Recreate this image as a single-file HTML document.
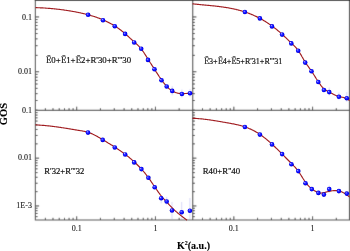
<!DOCTYPE html>
<html><head><meta charset="utf-8"><style>
html,body{margin:0;padding:0;background:#fff;width:350px;height:251px;overflow:hidden}
svg{display:block}
.eb{font-family:"Noto Serif CJK SC","Liberation Serif",serif;font-size:8.6px}
</style></head><body>
<svg width="350" height="251" viewBox="0 0 350 251">
<defs>
<filter id="soft" x="0" y="0" width="350" height="251" filterUnits="userSpaceOnUse"><feConvolveMatrix order="3" kernelMatrix="0.0113 0.0838 0.0113 0.0838 0.6193 0.0838 0.0113 0.0838 0.0113" edgeMode="duplicate"/></filter>
<radialGradient id="g" cx="0.5" cy="0.5" r="0.5" fx="0.32" fy="0.3">
<stop offset="0" stop-color="#d0d0ff"/>
<stop offset="0.3" stop-color="#3a3aff"/>
<stop offset="0.75" stop-color="#0000ff"/>
<stop offset="1" stop-color="#0000c8"/>
</radialGradient>
</defs>
<g filter="url(#soft)"><rect width="350" height="251" fill="#fff"/>
<line x1="172.2" y1="86.2" x2="172.2" y2="95.3" stroke="#d4d4f6" stroke-width="0.9"/><line x1="181.9" y1="89.5" x2="181.9" y2="97.7" stroke="#d4d4f6" stroke-width="0.9"/><line x1="190.0" y1="89" x2="190.0" y2="97" stroke="#d4d4f6" stroke-width="0.9"/><line x1="329.2" y1="87.5" x2="329.2" y2="95.5" stroke="#d4d4f6" stroke-width="0.9"/><line x1="338.9" y1="92.5" x2="338.9" y2="100" stroke="#d4d4f6" stroke-width="0.9"/><line x1="346.8" y1="92" x2="346.8" y2="102" stroke="#d4d4f6" stroke-width="0.9"/><line x1="161.2" y1="197" x2="161.2" y2="203.4" stroke="#d4d4f6" stroke-width="0.9"/><line x1="166.7" y1="197" x2="166.7" y2="205" stroke="#d4d4f6" stroke-width="0.9"/><line x1="172.0" y1="202" x2="172.0" y2="219.2" stroke="#d4d4f6" stroke-width="0.9"/><line x1="181.7" y1="202" x2="181.7" y2="219.2" stroke="#d4d4f6" stroke-width="0.9"/><line x1="189.9" y1="198" x2="189.9" y2="219.2" stroke="#d4d4f6" stroke-width="0.9"/><line x1="329.2" y1="185.5" x2="329.2" y2="193" stroke="#d4d4f6" stroke-width="0.9"/>
<g><line x1="45.36" y1="110.40" x2="45.36" y2="108.20" stroke="#383838" stroke-width="1.0"/><line x1="52.99" y1="110.40" x2="52.99" y2="108.20" stroke="#383838" stroke-width="1.0"/><line x1="59.23" y1="110.40" x2="59.23" y2="108.20" stroke="#383838" stroke-width="1.0"/><line x1="64.50" y1="110.40" x2="64.50" y2="108.20" stroke="#383838" stroke-width="1.0"/><line x1="69.07" y1="110.40" x2="69.07" y2="108.20" stroke="#383838" stroke-width="1.0"/><line x1="73.10" y1="110.40" x2="73.10" y2="108.20" stroke="#383838" stroke-width="1.0"/><line x1="76.70" y1="110.40" x2="76.70" y2="106.70" stroke="#383838" stroke-width="1.0"/><line x1="100.41" y1="110.40" x2="100.41" y2="108.20" stroke="#383838" stroke-width="1.0"/><line x1="114.27" y1="110.40" x2="114.27" y2="108.20" stroke="#383838" stroke-width="1.0"/><line x1="124.11" y1="110.40" x2="124.11" y2="108.20" stroke="#383838" stroke-width="1.0"/><line x1="131.74" y1="110.40" x2="131.74" y2="108.20" stroke="#383838" stroke-width="1.0"/><line x1="137.98" y1="110.40" x2="137.98" y2="108.20" stroke="#383838" stroke-width="1.0"/><line x1="143.25" y1="110.40" x2="143.25" y2="108.20" stroke="#383838" stroke-width="1.0"/><line x1="147.82" y1="110.40" x2="147.82" y2="108.20" stroke="#383838" stroke-width="1.0"/><line x1="151.85" y1="110.40" x2="151.85" y2="108.20" stroke="#383838" stroke-width="1.0"/><line x1="155.45" y1="110.40" x2="155.45" y2="106.70" stroke="#383838" stroke-width="1.0"/><line x1="179.16" y1="110.40" x2="179.16" y2="108.20" stroke="#383838" stroke-width="1.0"/><line x1="202.51" y1="110.40" x2="202.51" y2="108.20" stroke="#383838" stroke-width="1.0"/><line x1="210.14" y1="110.40" x2="210.14" y2="108.20" stroke="#383838" stroke-width="1.0"/><line x1="216.38" y1="110.40" x2="216.38" y2="108.20" stroke="#383838" stroke-width="1.0"/><line x1="221.65" y1="110.40" x2="221.65" y2="108.20" stroke="#383838" stroke-width="1.0"/><line x1="226.22" y1="110.40" x2="226.22" y2="108.20" stroke="#383838" stroke-width="1.0"/><line x1="230.25" y1="110.40" x2="230.25" y2="108.20" stroke="#383838" stroke-width="1.0"/><line x1="233.85" y1="110.40" x2="233.85" y2="106.70" stroke="#383838" stroke-width="1.0"/><line x1="257.56" y1="110.40" x2="257.56" y2="108.20" stroke="#383838" stroke-width="1.0"/><line x1="271.42" y1="110.40" x2="271.42" y2="108.20" stroke="#383838" stroke-width="1.0"/><line x1="281.26" y1="110.40" x2="281.26" y2="108.20" stroke="#383838" stroke-width="1.0"/><line x1="288.89" y1="110.40" x2="288.89" y2="108.20" stroke="#383838" stroke-width="1.0"/><line x1="295.13" y1="110.40" x2="295.13" y2="108.20" stroke="#383838" stroke-width="1.0"/><line x1="300.40" y1="110.40" x2="300.40" y2="108.20" stroke="#383838" stroke-width="1.0"/><line x1="304.97" y1="110.40" x2="304.97" y2="108.20" stroke="#383838" stroke-width="1.0"/><line x1="309.00" y1="110.40" x2="309.00" y2="108.20" stroke="#383838" stroke-width="1.0"/><line x1="312.60" y1="110.40" x2="312.60" y2="106.70" stroke="#383838" stroke-width="1.0"/><line x1="336.31" y1="110.40" x2="336.31" y2="108.20" stroke="#383838" stroke-width="1.0"/><line x1="45.36" y1="220.00" x2="45.36" y2="217.80" stroke="#383838" stroke-width="1.0"/><line x1="52.99" y1="220.00" x2="52.99" y2="217.80" stroke="#383838" stroke-width="1.0"/><line x1="59.23" y1="220.00" x2="59.23" y2="217.80" stroke="#383838" stroke-width="1.0"/><line x1="64.50" y1="220.00" x2="64.50" y2="217.80" stroke="#383838" stroke-width="1.0"/><line x1="69.07" y1="220.00" x2="69.07" y2="217.80" stroke="#383838" stroke-width="1.0"/><line x1="73.10" y1="220.00" x2="73.10" y2="217.80" stroke="#383838" stroke-width="1.0"/><line x1="76.70" y1="220.00" x2="76.70" y2="216.30" stroke="#383838" stroke-width="1.0"/><line x1="100.41" y1="220.00" x2="100.41" y2="217.80" stroke="#383838" stroke-width="1.0"/><line x1="114.27" y1="220.00" x2="114.27" y2="217.80" stroke="#383838" stroke-width="1.0"/><line x1="124.11" y1="220.00" x2="124.11" y2="217.80" stroke="#383838" stroke-width="1.0"/><line x1="131.74" y1="220.00" x2="131.74" y2="217.80" stroke="#383838" stroke-width="1.0"/><line x1="137.98" y1="220.00" x2="137.98" y2="217.80" stroke="#383838" stroke-width="1.0"/><line x1="143.25" y1="220.00" x2="143.25" y2="217.80" stroke="#383838" stroke-width="1.0"/><line x1="147.82" y1="220.00" x2="147.82" y2="217.80" stroke="#383838" stroke-width="1.0"/><line x1="151.85" y1="220.00" x2="151.85" y2="217.80" stroke="#383838" stroke-width="1.0"/><line x1="155.45" y1="220.00" x2="155.45" y2="216.30" stroke="#383838" stroke-width="1.0"/><line x1="179.16" y1="220.00" x2="179.16" y2="217.80" stroke="#383838" stroke-width="1.0"/><line x1="202.51" y1="220.00" x2="202.51" y2="217.80" stroke="#383838" stroke-width="1.0"/><line x1="210.14" y1="220.00" x2="210.14" y2="217.80" stroke="#383838" stroke-width="1.0"/><line x1="216.38" y1="220.00" x2="216.38" y2="217.80" stroke="#383838" stroke-width="1.0"/><line x1="221.65" y1="220.00" x2="221.65" y2="217.80" stroke="#383838" stroke-width="1.0"/><line x1="226.22" y1="220.00" x2="226.22" y2="217.80" stroke="#383838" stroke-width="1.0"/><line x1="230.25" y1="220.00" x2="230.25" y2="217.80" stroke="#383838" stroke-width="1.0"/><line x1="233.85" y1="220.00" x2="233.85" y2="216.30" stroke="#383838" stroke-width="1.0"/><line x1="257.56" y1="220.00" x2="257.56" y2="217.80" stroke="#383838" stroke-width="1.0"/><line x1="271.42" y1="220.00" x2="271.42" y2="217.80" stroke="#383838" stroke-width="1.0"/><line x1="281.26" y1="220.00" x2="281.26" y2="217.80" stroke="#383838" stroke-width="1.0"/><line x1="288.89" y1="220.00" x2="288.89" y2="217.80" stroke="#383838" stroke-width="1.0"/><line x1="295.13" y1="220.00" x2="295.13" y2="217.80" stroke="#383838" stroke-width="1.0"/><line x1="300.40" y1="220.00" x2="300.40" y2="217.80" stroke="#383838" stroke-width="1.0"/><line x1="304.97" y1="220.00" x2="304.97" y2="217.80" stroke="#383838" stroke-width="1.0"/><line x1="309.00" y1="220.00" x2="309.00" y2="217.80" stroke="#383838" stroke-width="1.0"/><line x1="312.60" y1="220.00" x2="312.60" y2="216.30" stroke="#383838" stroke-width="1.0"/><line x1="336.31" y1="220.00" x2="336.31" y2="217.80" stroke="#383838" stroke-width="1.0"/><line x1="35.40" y1="110.15" x2="37.60" y2="110.15" stroke="#383838" stroke-width="1.0"/><line x1="35.40" y1="100.50" x2="37.60" y2="100.50" stroke="#383838" stroke-width="1.0"/><line x1="35.40" y1="93.66" x2="37.60" y2="93.66" stroke="#383838" stroke-width="1.0"/><line x1="35.40" y1="88.35" x2="37.60" y2="88.35" stroke="#383838" stroke-width="1.0"/><line x1="35.40" y1="84.01" x2="37.60" y2="84.01" stroke="#383838" stroke-width="1.0"/><line x1="35.40" y1="80.34" x2="37.60" y2="80.34" stroke="#383838" stroke-width="1.0"/><line x1="35.40" y1="77.16" x2="37.60" y2="77.16" stroke="#383838" stroke-width="1.0"/><line x1="35.40" y1="74.36" x2="37.60" y2="74.36" stroke="#383838" stroke-width="1.0"/><line x1="35.40" y1="71.75" x2="39.10" y2="71.75" stroke="#383838" stroke-width="1.0"/><line x1="35.40" y1="55.35" x2="37.60" y2="55.35" stroke="#383838" stroke-width="1.0"/><line x1="35.40" y1="45.70" x2="37.60" y2="45.70" stroke="#383838" stroke-width="1.0"/><line x1="35.40" y1="38.86" x2="37.60" y2="38.86" stroke="#383838" stroke-width="1.0"/><line x1="35.40" y1="33.55" x2="37.60" y2="33.55" stroke="#383838" stroke-width="1.0"/><line x1="35.40" y1="29.21" x2="37.60" y2="29.21" stroke="#383838" stroke-width="1.0"/><line x1="35.40" y1="25.54" x2="37.60" y2="25.54" stroke="#383838" stroke-width="1.0"/><line x1="35.40" y1="22.36" x2="37.60" y2="22.36" stroke="#383838" stroke-width="1.0"/><line x1="35.40" y1="19.56" x2="37.60" y2="19.56" stroke="#383838" stroke-width="1.0"/><line x1="35.40" y1="16.95" x2="39.10" y2="16.95" stroke="#383838" stroke-width="1.0"/><line x1="192.70" y1="110.15" x2="194.90" y2="110.15" stroke="#383838" stroke-width="1.0"/><line x1="192.70" y1="100.50" x2="194.90" y2="100.50" stroke="#383838" stroke-width="1.0"/><line x1="192.70" y1="93.66" x2="194.90" y2="93.66" stroke="#383838" stroke-width="1.0"/><line x1="192.70" y1="88.35" x2="194.90" y2="88.35" stroke="#383838" stroke-width="1.0"/><line x1="192.70" y1="84.01" x2="194.90" y2="84.01" stroke="#383838" stroke-width="1.0"/><line x1="192.70" y1="80.34" x2="194.90" y2="80.34" stroke="#383838" stroke-width="1.0"/><line x1="192.70" y1="77.16" x2="194.90" y2="77.16" stroke="#383838" stroke-width="1.0"/><line x1="192.70" y1="74.36" x2="194.90" y2="74.36" stroke="#383838" stroke-width="1.0"/><line x1="192.70" y1="71.75" x2="196.40" y2="71.75" stroke="#383838" stroke-width="1.0"/><line x1="192.70" y1="55.35" x2="194.90" y2="55.35" stroke="#383838" stroke-width="1.0"/><line x1="192.70" y1="45.70" x2="194.90" y2="45.70" stroke="#383838" stroke-width="1.0"/><line x1="192.70" y1="38.86" x2="194.90" y2="38.86" stroke="#383838" stroke-width="1.0"/><line x1="192.70" y1="33.55" x2="194.90" y2="33.55" stroke="#383838" stroke-width="1.0"/><line x1="192.70" y1="29.21" x2="194.90" y2="29.21" stroke="#383838" stroke-width="1.0"/><line x1="192.70" y1="25.54" x2="194.90" y2="25.54" stroke="#383838" stroke-width="1.0"/><line x1="192.70" y1="22.36" x2="194.90" y2="22.36" stroke="#383838" stroke-width="1.0"/><line x1="192.70" y1="19.56" x2="194.90" y2="19.56" stroke="#383838" stroke-width="1.0"/><line x1="192.70" y1="16.95" x2="196.40" y2="16.95" stroke="#383838" stroke-width="1.0"/><line x1="35.40" y1="216.65" x2="37.60" y2="216.65" stroke="#383838" stroke-width="1.0"/><line x1="35.40" y1="213.45" x2="37.60" y2="213.45" stroke="#383838" stroke-width="1.0"/><line x1="35.40" y1="210.68" x2="37.60" y2="210.68" stroke="#383838" stroke-width="1.0"/><line x1="35.40" y1="208.24" x2="37.60" y2="208.24" stroke="#383838" stroke-width="1.0"/><line x1="35.40" y1="205.95" x2="39.10" y2="205.95" stroke="#383838" stroke-width="1.0"/><line x1="35.40" y1="191.66" x2="37.60" y2="191.66" stroke="#383838" stroke-width="1.0"/><line x1="35.40" y1="183.24" x2="37.60" y2="183.24" stroke="#383838" stroke-width="1.0"/><line x1="35.40" y1="177.27" x2="37.60" y2="177.27" stroke="#383838" stroke-width="1.0"/><line x1="35.40" y1="172.64" x2="37.60" y2="172.64" stroke="#383838" stroke-width="1.0"/><line x1="35.40" y1="168.85" x2="37.60" y2="168.85" stroke="#383838" stroke-width="1.0"/><line x1="35.40" y1="165.65" x2="37.60" y2="165.65" stroke="#383838" stroke-width="1.0"/><line x1="35.40" y1="162.88" x2="37.60" y2="162.88" stroke="#383838" stroke-width="1.0"/><line x1="35.40" y1="160.44" x2="37.60" y2="160.44" stroke="#383838" stroke-width="1.0"/><line x1="35.40" y1="158.15" x2="39.10" y2="158.15" stroke="#383838" stroke-width="1.0"/><line x1="35.40" y1="143.86" x2="37.60" y2="143.86" stroke="#383838" stroke-width="1.0"/><line x1="35.40" y1="135.44" x2="37.60" y2="135.44" stroke="#383838" stroke-width="1.0"/><line x1="35.40" y1="129.47" x2="37.60" y2="129.47" stroke="#383838" stroke-width="1.0"/><line x1="35.40" y1="124.84" x2="37.60" y2="124.84" stroke="#383838" stroke-width="1.0"/><line x1="35.40" y1="121.05" x2="37.60" y2="121.05" stroke="#383838" stroke-width="1.0"/><line x1="35.40" y1="117.85" x2="37.60" y2="117.85" stroke="#383838" stroke-width="1.0"/><line x1="35.40" y1="115.08" x2="37.60" y2="115.08" stroke="#383838" stroke-width="1.0"/><line x1="35.40" y1="112.64" x2="37.60" y2="112.64" stroke="#383838" stroke-width="1.0"/><line x1="192.70" y1="216.65" x2="194.90" y2="216.65" stroke="#383838" stroke-width="1.0"/><line x1="192.70" y1="213.45" x2="194.90" y2="213.45" stroke="#383838" stroke-width="1.0"/><line x1="192.70" y1="210.68" x2="194.90" y2="210.68" stroke="#383838" stroke-width="1.0"/><line x1="192.70" y1="208.24" x2="194.90" y2="208.24" stroke="#383838" stroke-width="1.0"/><line x1="192.70" y1="205.95" x2="196.40" y2="205.95" stroke="#383838" stroke-width="1.0"/><line x1="192.70" y1="191.66" x2="194.90" y2="191.66" stroke="#383838" stroke-width="1.0"/><line x1="192.70" y1="183.24" x2="194.90" y2="183.24" stroke="#383838" stroke-width="1.0"/><line x1="192.70" y1="177.27" x2="194.90" y2="177.27" stroke="#383838" stroke-width="1.0"/><line x1="192.70" y1="172.64" x2="194.90" y2="172.64" stroke="#383838" stroke-width="1.0"/><line x1="192.70" y1="168.85" x2="194.90" y2="168.85" stroke="#383838" stroke-width="1.0"/><line x1="192.70" y1="165.65" x2="194.90" y2="165.65" stroke="#383838" stroke-width="1.0"/><line x1="192.70" y1="162.88" x2="194.90" y2="162.88" stroke="#383838" stroke-width="1.0"/><line x1="192.70" y1="160.44" x2="194.90" y2="160.44" stroke="#383838" stroke-width="1.0"/><line x1="192.70" y1="158.15" x2="196.40" y2="158.15" stroke="#383838" stroke-width="1.0"/><line x1="192.70" y1="143.86" x2="194.90" y2="143.86" stroke="#383838" stroke-width="1.0"/><line x1="192.70" y1="135.44" x2="194.90" y2="135.44" stroke="#383838" stroke-width="1.0"/><line x1="192.70" y1="129.47" x2="194.90" y2="129.47" stroke="#383838" stroke-width="1.0"/><line x1="192.70" y1="124.84" x2="194.90" y2="124.84" stroke="#383838" stroke-width="1.0"/><line x1="192.70" y1="121.05" x2="194.90" y2="121.05" stroke="#383838" stroke-width="1.0"/><line x1="192.70" y1="117.85" x2="194.90" y2="117.85" stroke="#383838" stroke-width="1.0"/><line x1="192.70" y1="115.08" x2="194.90" y2="115.08" stroke="#383838" stroke-width="1.0"/><line x1="192.70" y1="112.64" x2="194.90" y2="112.64" stroke="#383838" stroke-width="1.0"/></g>
<path d="M35.4,110.4 H349.5 M35.4,220.0 H349.5 M35.4,-0.2 V220.5 M192.7,-0.2 V220.5 M349.5,-0.2 V220.5" stroke="#555" stroke-width="1.2" fill="none"/><path d="M34.8,0.4 H350.1" stroke="#333" stroke-width="1.2" fill="none"/>
</g>

<g style='font-family:"Liberation Serif","Times New Roman",serif' font-size="8" fill="#222" stroke="#222" stroke-width="0.12">
<text x="31.9" y="19.6" text-anchor="end">0.1</text>
<text x="31.9" y="74.2" text-anchor="end">0.01</text>
<text x="31.9" y="113.0" text-anchor="end">0.1</text>
<text x="31.9" y="160.3" text-anchor="end">0.01</text>
<text x="31.9" y="208.3" text-anchor="end">1E-3</text>
<text x="76.70" y="231.1" text-anchor="middle">0.1</text>
<text x="155.45" y="231.1" text-anchor="middle">1</text>
<text x="233.85" y="231.1" text-anchor="middle">0.1</text>
<text x="312.60" y="231.1" text-anchor="middle">1</text>
</g>
<g style='font-family:"Liberation Serif","Times New Roman",serif' font-size="9" fill="#111" stroke="#111" stroke-width="0.2">
<text x="45.8" y="63.3" textLength="85.4" lengthAdjust="spacingAndGlyphs"><tspan class="eb">Ē</tspan>0+<tspan class="eb">Ē</tspan>1+<tspan class="eb">Ē</tspan>2+R&#39;30+R&#39;&#39;&#39;30</text>
<text x="204" y="63.6" textLength="78.3" lengthAdjust="spacingAndGlyphs"><tspan class="eb">Ē</tspan>3+<tspan class="eb">Ē</tspan>4+<tspan class="eb">Ē</tspan>5+R&#39;31+R&#39;&#39;&#39;31</text>
<text x="44.3" y="174.0" textLength="40" lengthAdjust="spacingAndGlyphs">R&#39;32+R&#39;&#39;&#39;32</text>
<text x="202.7" y="174.2" textLength="37.4" lengthAdjust="spacingAndGlyphs">R40+R&#39;&#39;40</text>
</g>
<g style='font-family:"Liberation Serif","Times New Roman",serif' font-weight="bold" fill="#000" stroke="#000" stroke-width="0.12">
<text x="177" y="248.8" font-size="10">K<tspan font-size="6" dy="-4">2</tspan><tspan dy="4">(a.u.)</tspan></text>
<text transform="translate(7.1,125.3) rotate(-90)" font-size="9.4" textLength="22.4" lengthAdjust="spacingAndGlyphs">GOS</text>
</g>

<g fill="none" stroke="#a01c20" stroke-width="1.15" stroke-linejoin="round">
<path d="M35.5,7.6 L36.0,7.6 L36.5,7.6 L37.0,7.6 L37.5,7.7 L38.0,7.7 L38.5,7.7 L39.0,7.7 L39.5,7.7 L40.0,7.8 L40.5,7.8 L41.0,7.8 L41.5,7.8 L42.0,7.9 L42.5,7.9 L43.0,7.9 L43.5,8.0 L44.0,8.0 L44.5,8.0 L45.0,8.0 L45.5,8.1 L46.0,8.1 L46.5,8.2 L47.0,8.2 L47.5,8.2 L48.0,8.3 L48.5,8.3 L49.0,8.3 L49.5,8.4 L50.0,8.4 L50.5,8.5 L51.0,8.5 L51.5,8.6 L52.0,8.6 L52.5,8.6 L53.0,8.7 L53.5,8.7 L54.0,8.8 L54.5,8.8 L55.0,8.9 L55.5,9.0 L56.0,9.0 L56.5,9.1 L57.0,9.1 L57.5,9.2 L58.0,9.2 L58.5,9.3 L59.0,9.4 L59.5,9.4 L60.0,9.5 L60.5,9.5 L61.0,9.6 L61.5,9.7 L62.0,9.7 L62.5,9.8 L63.0,9.9 L63.5,9.9 L64.0,10.0 L64.5,10.1 L65.0,10.2 L65.5,10.2 L66.0,10.3 L66.5,10.4 L67.0,10.5 L67.5,10.5 L68.0,10.6 L68.5,10.7 L69.0,10.8 L69.5,10.9 L70.0,10.9 L70.5,11.0 L71.0,11.1 L71.5,11.2 L72.0,11.3 L72.5,11.4 L73.0,11.5 L73.5,11.5 L74.0,11.6 L74.5,11.7 L75.0,11.8 L75.5,11.9 L76.0,12.0 L76.5,12.1 L77.0,12.2 L77.5,12.3 L78.0,12.4 L78.5,12.5 L79.0,12.6 L79.5,12.7 L80.0,12.8 L80.5,12.9 L81.0,13.0 L81.5,13.2 L82.0,13.3 L82.5,13.4 L83.0,13.5 L83.5,13.6 L84.0,13.7 L84.5,13.8 L85.0,14.0 L85.5,14.1 L86.0,14.2 L86.5,14.3 L87.0,14.5 L87.5,14.6 L88.0,14.7 L88.5,14.9 L89.0,15.0 L89.5,15.1 L90.0,15.3 L90.5,15.4 L91.0,15.6 L91.5,15.7 L92.0,15.9 L92.5,16.0 L93.0,16.2 L93.5,16.3 L94.0,16.5 L94.5,16.6 L95.0,16.8 L95.5,17.0 L96.0,17.1 L96.5,17.3 L97.0,17.5 L97.5,17.7 L98.0,17.9 L98.5,18.0 L99.0,18.2 L99.5,18.4 L100.0,18.6 L100.5,18.8 L101.0,19.0 L101.5,19.2 L102.0,19.4 L102.5,19.6 L103.0,19.8 L103.5,20.1 L104.0,20.3 L104.5,20.5 L105.0,20.7 L105.5,21.0 L106.0,21.2 L106.5,21.4 L107.0,21.7 L107.5,21.9 L108.0,22.2 L108.5,22.4 L109.0,22.7 L109.5,22.9 L110.0,23.2 L110.5,23.5 L111.0,23.8 L111.5,24.0 L112.0,24.3 L112.5,24.6 L113.0,24.9 L113.5,25.2 L114.0,25.5 L114.5,25.8 L115.0,26.1 L115.5,26.4 L116.0,26.8 L116.5,27.1 L117.0,27.4 L117.5,27.8 L118.0,28.1 L118.5,28.5 L119.0,28.8 L119.5,29.2 L120.0,29.6 L120.5,29.9 L121.0,30.3 L121.5,30.7 L122.0,31.1 L122.5,31.5 L123.0,31.9 L123.5,32.3 L124.0,32.7 L124.5,33.1 L125.0,33.6 L125.5,34.0 L126.0,34.4 L126.5,34.9 L127.0,35.3 L127.5,35.8 L128.0,36.2 L128.5,36.7 L129.0,37.2 L129.5,37.6 L130.0,38.1 L130.5,38.6 L131.0,39.0 L131.5,39.5 L132.0,39.9 L132.5,40.4 L133.0,40.9 L133.5,41.3 L134.0,41.8 L134.5,42.2 L135.0,42.6 L135.5,43.1 L136.0,43.5 L136.5,44.0 L137.0,44.4 L137.5,44.9 L138.0,45.4 L138.5,45.8 L139.0,46.4 L139.5,46.9 L140.0,47.4 L140.5,48.0 L141.0,48.6 L141.5,49.2 L142.0,49.9 L142.5,50.6 L143.0,51.3 L143.5,52.0 L144.0,52.8 L144.5,53.6 L145.0,54.3 L145.5,55.1 L146.0,55.9 L146.5,56.7 L147.0,57.5 L147.5,58.3 L148.0,59.1 L148.5,59.9 L149.0,60.7 L149.5,61.5 L150.0,62.3 L150.5,63.0 L151.0,63.8 L151.5,64.6 L152.0,65.4 L152.5,66.1 L153.0,66.9 L153.5,67.7 L154.0,68.4 L154.5,69.2 L155.0,70.0 L155.5,70.8 L156.0,71.6 L156.5,72.3 L157.0,73.1 L157.5,73.9 L158.0,74.7 L158.5,75.4 L159.0,76.2 L159.5,77.0 L160.0,77.7 L160.5,78.4 L161.0,79.2 L161.5,79.9 L162.0,80.6 L162.5,81.3 L163.0,81.9 L163.5,82.6 L164.0,83.2 L164.5,83.8 L165.0,84.4 L165.5,85.0 L166.0,85.6 L166.5,86.1 L167.0,86.6 L167.5,87.1 L168.0,87.6 L168.5,88.1 L169.0,88.6 L169.5,89.0 L170.0,89.4 L170.5,89.8 L171.0,90.2 L171.5,90.5 L172.0,90.8 L172.5,91.1 L173.0,91.4 L173.5,91.7 L174.0,91.9 L174.5,92.1 L175.0,92.3 L175.5,92.5 L176.0,92.7 L176.5,92.8 L177.0,93.0 L177.5,93.1 L178.0,93.2 L178.5,93.3 L179.0,93.3 L179.5,93.4 L180.0,93.5 L180.5,93.5 L181.0,93.5 L181.5,93.6 L182.0,93.6 L182.5,93.6 L183.0,93.6 L183.5,93.6 L184.0,93.6 L184.5,93.6 L185.0,93.5 L185.5,93.5 L186.0,93.5 L186.5,93.5 L187.0,93.4 L187.5,93.4 L188.0,93.4 L188.5,93.4 L189.0,93.3 L189.5,93.3 L190.0,93.3 L190.5,93.3 L191.0,93.3 L191.5,93.3 L192.0,93.3 L192.5,93.3"/><path d="M192.5,3.8 L193.0,3.9 L193.5,3.9 L194.0,4.0 L194.5,4.0 L195.0,4.1 L195.5,4.1 L196.0,4.2 L196.5,4.2 L197.0,4.3 L197.5,4.3 L198.0,4.4 L198.5,4.4 L199.0,4.5 L199.5,4.5 L200.0,4.6 L200.5,4.6 L201.0,4.7 L201.5,4.7 L202.0,4.8 L202.5,4.8 L203.0,4.9 L203.5,4.9 L204.0,5.0 L204.5,5.0 L205.0,5.1 L205.5,5.1 L206.0,5.1 L206.5,5.2 L207.0,5.2 L207.5,5.3 L208.0,5.3 L208.5,5.4 L209.0,5.4 L209.5,5.5 L210.0,5.5 L210.5,5.6 L211.0,5.6 L211.5,5.7 L212.0,5.7 L212.5,5.8 L213.0,5.8 L213.5,5.9 L214.0,5.9 L214.5,6.0 L215.0,6.0 L215.5,6.1 L216.0,6.1 L216.5,6.2 L217.0,6.3 L217.5,6.3 L218.0,6.4 L218.5,6.4 L219.0,6.5 L219.5,6.6 L220.0,6.6 L220.5,6.7 L221.0,6.8 L221.5,6.8 L222.0,6.9 L222.5,7.0 L223.0,7.0 L223.5,7.1 L224.0,7.2 L224.5,7.3 L225.0,7.3 L225.5,7.4 L226.0,7.5 L226.5,7.6 L227.0,7.6 L227.5,7.7 L228.0,7.8 L228.5,7.9 L229.0,8.0 L229.5,8.1 L230.0,8.2 L230.5,8.3 L231.0,8.4 L231.5,8.5 L232.0,8.6 L232.5,8.7 L233.0,8.8 L233.5,8.9 L234.0,9.0 L234.5,9.1 L235.0,9.2 L235.5,9.3 L236.0,9.4 L236.5,9.6 L237.0,9.7 L237.5,9.8 L238.0,9.9 L238.5,10.1 L239.0,10.2 L239.5,10.3 L240.0,10.5 L240.5,10.6 L241.0,10.8 L241.5,10.9 L242.0,11.0 L242.5,11.2 L243.0,11.3 L243.5,11.5 L244.0,11.7 L244.5,11.8 L245.0,12.0 L245.5,12.2 L246.0,12.3 L246.5,12.5 L247.0,12.7 L247.5,12.8 L248.0,13.0 L248.5,13.2 L249.0,13.4 L249.5,13.6 L250.0,13.8 L250.5,14.0 L251.0,14.2 L251.5,14.4 L252.0,14.6 L252.5,14.8 L253.0,15.0 L253.5,15.2 L254.0,15.5 L254.5,15.7 L255.0,15.9 L255.5,16.2 L256.0,16.4 L256.5,16.6 L257.0,16.9 L257.5,17.1 L258.0,17.4 L258.5,17.6 L259.0,17.9 L259.5,18.2 L260.0,18.4 L260.5,18.7 L261.0,19.0 L261.5,19.2 L262.0,19.5 L262.5,19.8 L263.0,20.1 L263.5,20.4 L264.0,20.7 L264.5,21.0 L265.0,21.3 L265.5,21.6 L266.0,21.9 L266.5,22.2 L267.0,22.5 L267.5,22.9 L268.0,23.2 L268.5,23.5 L269.0,23.9 L269.5,24.2 L270.0,24.6 L270.5,24.9 L271.0,25.3 L271.5,25.6 L272.0,26.0 L272.5,26.3 L273.0,26.7 L273.5,27.1 L274.0,27.5 L274.5,27.9 L275.0,28.2 L275.5,28.6 L276.0,29.0 L276.5,29.4 L277.0,29.8 L277.5,30.3 L278.0,30.7 L278.5,31.1 L279.0,31.5 L279.5,31.9 L280.0,32.4 L280.5,32.8 L281.0,33.3 L281.5,33.7 L282.0,34.2 L282.5,34.6 L283.0,35.1 L283.5,35.5 L284.0,36.0 L284.5,36.5 L285.0,37.0 L285.5,37.4 L286.0,37.9 L286.5,38.4 L287.0,38.9 L287.5,39.4 L288.0,39.8 L288.5,40.3 L289.0,40.8 L289.5,41.3 L290.0,41.8 L290.5,42.2 L291.0,42.7 L291.5,43.2 L292.0,43.7 L292.5,44.1 L293.0,44.6 L293.5,45.1 L294.0,45.6 L294.5,46.1 L295.0,46.6 L295.5,47.1 L296.0,47.7 L296.5,48.3 L297.0,48.9 L297.5,49.5 L298.0,50.2 L298.5,50.9 L299.0,51.7 L299.5,52.5 L300.0,53.3 L300.5,54.1 L301.0,54.9 L301.5,55.8 L302.0,56.7 L302.5,57.5 L303.0,58.4 L303.5,59.2 L304.0,60.1 L304.5,60.9 L305.0,61.7 L305.5,62.5 L306.0,63.3 L306.5,64.1 L307.0,64.8 L307.5,65.5 L308.0,66.2 L308.5,66.9 L309.0,67.6 L309.5,68.3 L310.0,69.0 L310.5,69.7 L311.0,70.4 L311.5,71.2 L312.0,71.9 L312.5,72.7 L313.0,73.4 L313.5,74.2 L314.0,75.0 L314.5,75.8 L315.0,76.6 L315.5,77.4 L316.0,78.2 L316.5,79.0 L317.0,79.7 L317.5,80.5 L318.0,81.3 L318.5,82.0 L319.0,82.8 L319.5,83.5 L320.0,84.2 L320.5,84.9 L321.0,85.6 L321.5,86.2 L322.0,86.8 L322.5,87.4 L323.0,87.9 L323.5,88.4 L324.0,88.9 L324.5,89.3 L325.0,89.7 L325.5,90.0 L326.0,90.3 L326.5,90.6 L327.0,90.9 L327.5,91.2 L328.0,91.4 L328.5,91.7 L329.0,92.0 L329.5,92.2 L330.0,92.5 L330.5,92.7 L331.0,93.0 L331.5,93.3 L332.0,93.5 L332.5,93.8 L333.0,94.1 L333.5,94.3 L334.0,94.6 L334.5,94.8 L335.0,95.1 L335.5,95.3 L336.0,95.5 L336.5,95.7 L337.0,95.9 L337.5,96.1 L338.0,96.3 L338.5,96.4 L339.0,96.6 L339.5,96.7 L340.0,96.8 L340.5,96.9 L341.0,97.0 L341.5,97.1 L342.0,97.2 L342.5,97.3 L343.0,97.4 L343.5,97.5 L344.0,97.6 L344.5,97.7 L345.0,97.9 L345.5,98.1 L346.0,98.3 L346.5,98.5 L347.0,98.8 L347.5,99.1 L348.0,99.4 L348.5,99.8 L349.0,100.2 L349.5,100.7"/><path d="M35.5,124.9 L36.0,124.9 L36.5,124.9 L37.0,125.0 L37.5,125.0 L38.0,125.0 L38.5,125.0 L39.0,125.1 L39.5,125.1 L40.0,125.1 L40.5,125.2 L41.0,125.2 L41.5,125.2 L42.0,125.3 L42.5,125.3 L43.0,125.3 L43.5,125.4 L44.0,125.4 L44.5,125.5 L45.0,125.5 L45.5,125.6 L46.0,125.6 L46.5,125.7 L47.0,125.7 L47.5,125.8 L48.0,125.8 L48.5,125.9 L49.0,125.9 L49.5,126.0 L50.0,126.0 L50.5,126.1 L51.0,126.1 L51.5,126.2 L52.0,126.3 L52.5,126.3 L53.0,126.4 L53.5,126.5 L54.0,126.5 L54.5,126.6 L55.0,126.7 L55.5,126.7 L56.0,126.8 L56.5,126.9 L57.0,126.9 L57.5,127.0 L58.0,127.1 L58.5,127.1 L59.0,127.2 L59.5,127.3 L60.0,127.4 L60.5,127.4 L61.0,127.5 L61.5,127.6 L62.0,127.7 L62.5,127.7 L63.0,127.8 L63.5,127.9 L64.0,128.0 L64.5,128.0 L65.0,128.1 L65.5,128.2 L66.0,128.3 L66.5,128.4 L67.0,128.4 L67.5,128.5 L68.0,128.6 L68.5,128.7 L69.0,128.8 L69.5,128.9 L70.0,128.9 L70.5,129.0 L71.0,129.1 L71.5,129.2 L72.0,129.3 L72.5,129.3 L73.0,129.4 L73.5,129.5 L74.0,129.6 L74.5,129.7 L75.0,129.8 L75.5,129.8 L76.0,129.9 L76.5,130.0 L77.0,130.1 L77.5,130.2 L78.0,130.3 L78.5,130.3 L79.0,130.4 L79.5,130.5 L80.0,130.6 L80.5,130.7 L81.0,130.7 L81.5,130.8 L82.0,130.9 L82.5,131.0 L83.0,131.1 L83.5,131.2 L84.0,131.3 L84.5,131.4 L85.0,131.5 L85.5,131.6 L86.0,131.7 L86.5,131.9 L87.0,132.0 L87.5,132.1 L88.0,132.3 L88.5,132.4 L89.0,132.6 L89.5,132.8 L90.0,133.0 L90.5,133.2 L91.0,133.4 L91.5,133.6 L92.0,133.8 L92.5,134.0 L93.0,134.3 L93.5,134.5 L94.0,134.8 L94.5,135.0 L95.0,135.3 L95.5,135.5 L96.0,135.8 L96.5,136.1 L97.0,136.3 L97.5,136.6 L98.0,136.9 L98.5,137.2 L99.0,137.5 L99.5,137.8 L100.0,138.1 L100.5,138.4 L101.0,138.7 L101.5,139.0 L102.0,139.3 L102.5,139.6 L103.0,139.8 L103.5,140.1 L104.0,140.4 L104.5,140.7 L105.0,141.0 L105.5,141.3 L106.0,141.6 L106.5,141.9 L107.0,142.2 L107.5,142.5 L108.0,142.9 L108.5,143.2 L109.0,143.5 L109.5,143.8 L110.0,144.1 L110.5,144.4 L111.0,144.7 L111.5,145.0 L112.0,145.3 L112.5,145.6 L113.0,145.9 L113.5,146.3 L114.0,146.6 L114.5,146.9 L115.0,147.2 L115.5,147.5 L116.0,147.9 L116.5,148.2 L117.0,148.5 L117.5,148.9 L118.0,149.2 L118.5,149.5 L119.0,149.9 L119.5,150.2 L120.0,150.6 L120.5,150.9 L121.0,151.3 L121.5,151.6 L122.0,152.0 L122.5,152.3 L123.0,152.7 L123.5,153.1 L124.0,153.4 L124.5,153.8 L125.0,154.2 L125.5,154.6 L126.0,155.0 L126.5,155.3 L127.0,155.7 L127.5,156.1 L128.0,156.5 L128.5,156.9 L129.0,157.3 L129.5,157.7 L130.0,158.2 L130.5,158.6 L131.0,159.0 L131.5,159.4 L132.0,159.9 L132.5,160.3 L133.0,160.8 L133.5,161.2 L134.0,161.7 L134.5,162.1 L135.0,162.6 L135.5,163.0 L136.0,163.5 L136.5,164.0 L137.0,164.5 L137.5,165.0 L138.0,165.5 L138.5,166.0 L139.0,166.5 L139.5,167.0 L140.0,167.5 L140.5,168.1 L141.0,168.6 L141.5,169.2 L142.0,169.7 L142.5,170.3 L143.0,170.9 L143.5,171.4 L144.0,172.0 L144.5,172.6 L145.0,173.2 L145.5,173.9 L146.0,174.5 L146.5,175.1 L147.0,175.8 L147.5,176.4 L148.0,177.1 L148.5,177.8 L149.0,178.5 L149.5,179.2 L150.0,179.9 L150.5,180.6 L151.0,181.3 L151.5,182.1 L152.0,182.8 L152.5,183.5 L153.0,184.3 L153.5,185.0 L154.0,185.8 L154.5,186.5 L155.0,187.3 L155.5,188.0 L156.0,188.7 L156.5,189.5 L157.0,190.2 L157.5,190.9 L158.0,191.6 L158.5,192.3 L159.0,193.0 L159.5,193.7 L160.0,194.4 L160.5,195.0 L161.0,195.7 L161.5,196.3 L162.0,196.9 L162.5,197.5 L163.0,198.1 L163.5,198.7 L164.0,199.2 L164.5,199.7 L165.0,200.3 L165.5,200.8 L166.0,201.3 L166.5,201.8 L167.0,202.3 L167.5,202.9 L168.0,203.4 L168.5,204.0 L169.0,204.5 L169.5,205.1 L170.0,205.6 L170.5,206.2 L171.0,206.7 L171.5,207.2 L172.0,207.7 L172.5,208.2 L173.0,208.7 L173.5,209.2 L174.0,209.6 L174.5,210.1 L175.0,210.6 L175.5,211.0 L176.0,211.5 L176.5,211.9 L177.0,212.3 L177.5,212.8 L178.0,213.2 L178.5,213.6 L179.0,214.0 L179.5,214.4 L180.0,214.8 L180.5,215.2 L181.0,215.6 L181.5,216.0 L182.0,216.4 L182.5,216.8 L183.0,217.2 L183.5,217.6 L184.0,217.9 L184.5,218.3 L185.0,218.7 L185.5,219.1 L186.0,219.4 L186.5,219.8 L187.0,220.2"/><path d="M192.5,118.3 L193.0,118.3 L193.5,118.3 L194.0,118.3 L194.5,118.4 L195.0,118.4 L195.5,118.4 L196.0,118.4 L196.5,118.5 L197.0,118.5 L197.5,118.5 L198.0,118.6 L198.5,118.6 L199.0,118.7 L199.5,118.7 L200.0,118.7 L200.5,118.8 L201.0,118.8 L201.5,118.9 L202.0,118.9 L202.5,119.0 L203.0,119.0 L203.5,119.1 L204.0,119.2 L204.5,119.2 L205.0,119.3 L205.5,119.3 L206.0,119.4 L206.5,119.5 L207.0,119.5 L207.5,119.6 L208.0,119.7 L208.5,119.7 L209.0,119.8 L209.5,119.9 L210.0,119.9 L210.5,120.0 L211.0,120.1 L211.5,120.2 L212.0,120.2 L212.5,120.3 L213.0,120.4 L213.5,120.5 L214.0,120.6 L214.5,120.6 L215.0,120.7 L215.5,120.8 L216.0,120.9 L216.5,121.0 L217.0,121.0 L217.5,121.1 L218.0,121.2 L218.5,121.3 L219.0,121.4 L219.5,121.5 L220.0,121.5 L220.5,121.6 L221.0,121.7 L221.5,121.8 L222.0,121.9 L222.5,122.0 L223.0,122.1 L223.5,122.2 L224.0,122.2 L224.5,122.3 L225.0,122.4 L225.5,122.5 L226.0,122.6 L226.5,122.7 L227.0,122.8 L227.5,122.9 L228.0,122.9 L228.5,123.0 L229.0,123.1 L229.5,123.2 L230.0,123.3 L230.5,123.4 L231.0,123.5 L231.5,123.6 L232.0,123.7 L232.5,123.8 L233.0,123.8 L233.5,123.9 L234.0,124.0 L234.5,124.1 L235.0,124.2 L235.5,124.4 L236.0,124.5 L236.5,124.6 L237.0,124.7 L237.5,124.8 L238.0,124.9 L238.5,125.0 L239.0,125.2 L239.5,125.3 L240.0,125.4 L240.5,125.5 L241.0,125.7 L241.5,125.8 L242.0,126.0 L242.5,126.1 L243.0,126.3 L243.5,126.4 L244.0,126.6 L244.5,126.8 L245.0,126.9 L245.5,127.1 L246.0,127.3 L246.5,127.5 L247.0,127.7 L247.5,127.8 L248.0,128.0 L248.5,128.2 L249.0,128.5 L249.5,128.7 L250.0,128.9 L250.5,129.1 L251.0,129.3 L251.5,129.6 L252.0,129.8 L252.5,130.1 L253.0,130.3 L253.5,130.6 L254.0,130.8 L254.5,131.1 L255.0,131.4 L255.5,131.6 L256.0,131.9 L256.5,132.2 L257.0,132.5 L257.5,132.8 L258.0,133.1 L258.5,133.4 L259.0,133.8 L259.5,134.1 L260.0,134.4 L260.5,134.8 L261.0,135.1 L261.5,135.5 L262.0,135.8 L262.5,136.2 L263.0,136.6 L263.5,137.0 L264.0,137.4 L264.5,137.7 L265.0,138.1 L265.5,138.5 L266.0,138.9 L266.5,139.4 L267.0,139.8 L267.5,140.2 L268.0,140.6 L268.5,141.0 L269.0,141.5 L269.5,141.9 L270.0,142.4 L270.5,142.8 L271.0,143.3 L271.5,143.7 L272.0,144.2 L272.5,144.6 L273.0,145.1 L273.5,145.6 L274.0,146.0 L274.5,146.5 L275.0,147.0 L275.5,147.5 L276.0,148.0 L276.5,148.4 L277.0,148.9 L277.5,149.4 L278.0,149.9 L278.5,150.4 L279.0,150.9 L279.5,151.4 L280.0,151.9 L280.5,152.4 L281.0,152.9 L281.5,153.4 L282.0,153.9 L282.5,154.4 L283.0,154.9 L283.5,155.4 L284.0,155.9 L284.5,156.4 L285.0,157.0 L285.5,157.5 L286.0,158.0 L286.5,158.5 L287.0,159.0 L287.5,159.5 L288.0,160.0 L288.5,160.5 L289.0,161.0 L289.5,161.5 L290.0,162.0 L290.5,162.5 L291.0,163.0 L291.5,163.5 L292.0,164.0 L292.5,164.5 L293.0,165.0 L293.5,165.5 L294.0,166.1 L294.5,166.6 L295.0,167.1 L295.5,167.7 L296.0,168.3 L296.5,168.9 L297.0,169.5 L297.5,170.1 L298.0,170.8 L298.5,171.5 L299.0,172.2 L299.5,172.9 L300.0,173.7 L300.5,174.5 L301.0,175.3 L301.5,176.1 L302.0,176.9 L302.5,177.7 L303.0,178.5 L303.5,179.2 L304.0,180.0 L304.5,180.8 L305.0,181.5 L305.5,182.2 L306.0,182.9 L306.5,183.5 L307.0,184.2 L307.5,184.7 L308.0,185.3 L308.5,185.9 L309.0,186.4 L309.5,186.9 L310.0,187.3 L310.5,187.8 L311.0,188.2 L311.5,188.6 L312.0,189.0 L312.5,189.4 L313.0,189.7 L313.5,190.1 L314.0,190.4 L314.5,190.7 L315.0,191.0 L315.5,191.3 L316.0,191.6 L316.5,191.9 L317.0,192.1 L317.5,192.4 L318.0,192.6 L318.5,192.7 L319.0,192.9 L319.5,193.0 L320.0,193.0 L320.5,193.1 L321.0,193.1 L321.5,193.0 L322.0,193.0 L322.5,192.9 L323.0,192.8 L323.5,192.7 L324.0,192.6 L324.5,192.5 L325.0,192.4 L325.5,192.2 L326.0,192.1 L326.5,192.0 L327.0,191.8 L327.5,191.7 L328.0,191.6 L328.5,191.5 L329.0,191.4 L329.5,191.3 L330.0,191.2 L330.5,191.1 L331.0,191.0 L331.5,190.9 L332.0,190.8 L332.5,190.7 L333.0,190.7 L333.5,190.6 L334.0,190.6 L334.5,190.6 L335.0,190.6 L335.5,190.6 L336.0,190.6 L336.5,190.6 L337.0,190.7 L337.5,190.7 L338.0,190.8 L338.5,190.9 L339.0,191.0 L339.5,191.1 L340.0,191.3 L340.5,191.4 L341.0,191.6 L341.5,191.8 L342.0,192.0 L342.5,192.2 L343.0,192.5 L343.5,192.7 L344.0,193.0 L344.5,193.3 L345.0,193.6 L345.5,193.9 L346.0,194.3 L346.5,194.6 L347.0,195.0 L347.5,195.3 L348.0,195.7 L348.5,196.1 L349.0,196.6 L349.5,197.0"/>
</g>
<circle cx="88.1" cy="14.8" r="2.3" fill="url(#g)"/><circle cx="103.0" cy="20.3" r="2.3" fill="url(#g)"/><circle cx="114.8" cy="26.2" r="2.3" fill="url(#g)"/><circle cx="125.1" cy="33.9" r="2.3" fill="url(#g)"/><circle cx="134.2" cy="42.5" r="2.3" fill="url(#g)"/><circle cx="141.2" cy="48.7" r="2.3" fill="url(#g)"/><circle cx="148.0" cy="59.9" r="2.3" fill="url(#g)"/><circle cx="154.5" cy="69.2" r="2.3" fill="url(#g)"/><circle cx="161.5" cy="80.3" r="2.3" fill="url(#g)"/><circle cx="166.7" cy="86.5" r="2.3" fill="url(#g)"/><circle cx="172.2" cy="90.9" r="2.3" fill="url(#g)"/><circle cx="181.9" cy="94.0" r="2.3" fill="url(#g)"/><circle cx="190.0" cy="93.2" r="2.3" fill="url(#g)"/><circle cx="244.9" cy="12.0" r="2.3" fill="url(#g)"/><circle cx="259.9" cy="18.4" r="2.3" fill="url(#g)"/><circle cx="272.0" cy="26.4" r="2.3" fill="url(#g)"/><circle cx="282.1" cy="34.6" r="2.3" fill="url(#g)"/><circle cx="291.3" cy="43.4" r="2.3" fill="url(#g)"/><circle cx="298.2" cy="50.7" r="2.3" fill="url(#g)"/><circle cx="305.2" cy="62.6" r="2.3" fill="url(#g)"/><circle cx="311.5" cy="71.3" r="2.3" fill="url(#g)"/><circle cx="318.3" cy="82.0" r="2.3" fill="url(#g)"/><circle cx="323.9" cy="90.0" r="2.3" fill="url(#g)"/><circle cx="329.2" cy="92.1" r="2.3" fill="url(#g)"/><circle cx="338.9" cy="96.8" r="2.3" fill="url(#g)"/><circle cx="346.8" cy="98.2" r="2.3" fill="url(#g)"/><circle cx="88.0" cy="132.6" r="2.3" fill="url(#g)"/><circle cx="102.7" cy="139.9" r="2.3" fill="url(#g)"/><circle cx="114.8" cy="147.5" r="2.3" fill="url(#g)"/><circle cx="125.2" cy="154.5" r="2.3" fill="url(#g)"/><circle cx="134.2" cy="162.4" r="2.3" fill="url(#g)"/><circle cx="141.4" cy="169.1" r="2.3" fill="url(#g)"/><circle cx="148.4" cy="177.8" r="2.3" fill="url(#g)"/><circle cx="154.7" cy="187.3" r="2.3" fill="url(#g)"/><circle cx="161.2" cy="198.2" r="2.3" fill="url(#g)"/><circle cx="166.7" cy="201.5" r="2.3" fill="url(#g)"/><circle cx="172.0" cy="210.5" r="2.3" fill="url(#g)"/><circle cx="181.7" cy="212.2" r="2.3" fill="url(#g)"/><circle cx="189.9" cy="210.7" r="2.3" fill="url(#g)"/><circle cx="244.9" cy="127.0" r="2.3" fill="url(#g)"/><circle cx="259.9" cy="134.6" r="2.3" fill="url(#g)"/><circle cx="272.0" cy="144.4" r="2.3" fill="url(#g)"/><circle cx="282.1" cy="154.1" r="2.3" fill="url(#g)"/><circle cx="291.4" cy="164.2" r="2.3" fill="url(#g)"/><circle cx="298.3" cy="171.1" r="2.3" fill="url(#g)"/><circle cx="305.5" cy="183.2" r="2.3" fill="url(#g)"/><circle cx="311.8" cy="189.1" r="2.3" fill="url(#g)"/><circle cx="318.4" cy="192.9" r="2.3" fill="url(#g)"/><circle cx="323.9" cy="194.6" r="2.3" fill="url(#g)"/><circle cx="329.2" cy="189.1" r="2.3" fill="url(#g)"/><circle cx="338.9" cy="191.1" r="2.3" fill="url(#g)"/><circle cx="346.8" cy="193.6" r="2.3" fill="url(#g)"/>
</svg>
</body></html>
